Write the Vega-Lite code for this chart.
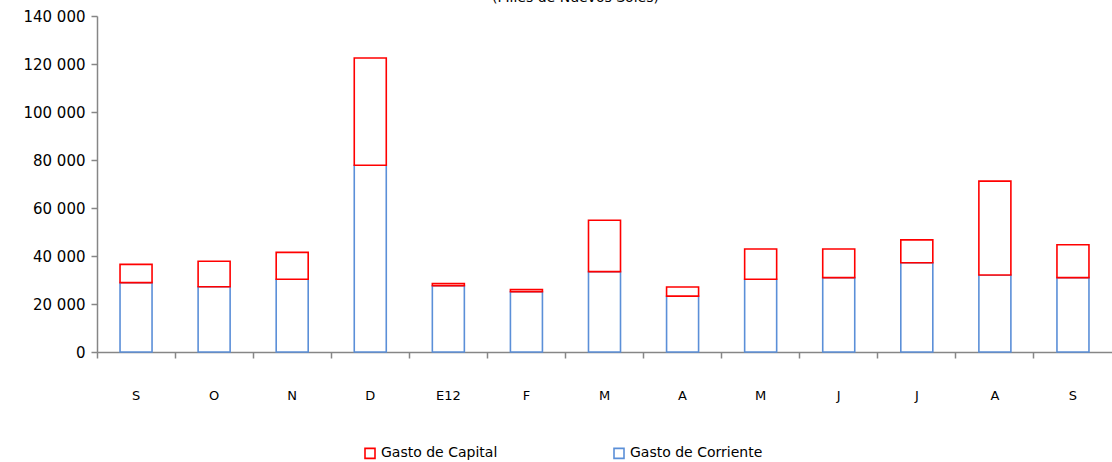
{
  "$schema": "https://vega.github.io/schema/vega-lite/v6.json",
  "autosize": "none",
  "width": 1015,
  "height": 336,
  "padding": {"left": 97, "top": 16, "right": 0, "bottom": 110},
  "background": "white",
  "title": {
    "text": "(Miles de Nuevos Soles)",
    "font": "DejaVu Sans",
    "fontSize": 14,
    "fontWeight": "normal",
    "color": "#000000",
    "anchor": "middle",
    "frame": "bounds",
    "offset": 4,
    "dx": 8
  },
  "data": {
    "values": [
      {"periodo": "S|2011-09", "tipo": "Gasto de Corriente", "valor": 28900},
      {"periodo": "O|2011-10", "tipo": "Gasto de Corriente", "valor": 27200},
      {"periodo": "N|2011-11", "tipo": "Gasto de Corriente", "valor": 30300},
      {"periodo": "D|2011-12", "tipo": "Gasto de Corriente", "valor": 77800},
      {"periodo": "E12|2012-01", "tipo": "Gasto de Corriente", "valor": 27600},
      {"periodo": "F|2012-02", "tipo": "Gasto de Corriente", "valor": 25100},
      {"periodo": "M|2012-03", "tipo": "Gasto de Corriente", "valor": 33500},
      {"periodo": "A|2012-04", "tipo": "Gasto de Corriente", "valor": 23300},
      {"periodo": "M|2012-05", "tipo": "Gasto de Corriente", "valor": 30300},
      {"periodo": "J|2012-06", "tipo": "Gasto de Corriente", "valor": 31000},
      {"periodo": "J|2012-07", "tipo": "Gasto de Corriente", "valor": 37200},
      {"periodo": "A|2012-08", "tipo": "Gasto de Corriente", "valor": 32100},
      {"periodo": "S|2012-09", "tipo": "Gasto de Corriente", "valor": 31000},
      {"periodo": "S|2011-09", "tipo": "Gasto de Capital", "valor": 7600},
      {"periodo": "O|2011-10", "tipo": "Gasto de Capital", "valor": 10600},
      {"periodo": "N|2011-11", "tipo": "Gasto de Capital", "valor": 11200},
      {"periodo": "D|2011-12", "tipo": "Gasto de Capital", "valor": 44700},
      {"periodo": "E12|2012-01", "tipo": "Gasto de Capital", "valor": 900},
      {"periodo": "F|2012-02", "tipo": "Gasto de Capital", "valor": 900},
      {"periodo": "M|2012-03", "tipo": "Gasto de Capital", "valor": 21400},
      {"periodo": "A|2012-04", "tipo": "Gasto de Capital", "valor": 3800},
      {"periodo": "M|2012-05", "tipo": "Gasto de Capital", "valor": 12600},
      {"periodo": "J|2012-06", "tipo": "Gasto de Capital", "valor": 11900},
      {"periodo": "J|2012-07", "tipo": "Gasto de Capital", "valor": 9500},
      {"periodo": "A|2012-08", "tipo": "Gasto de Capital", "valor": 39100},
      {"periodo": "S|2012-09", "tipo": "Gasto de Capital", "valor": 13700}
    ]
  },
  "mark": {"type": "bar", "fill": "white", "strokeWidth": 1.6, "width": {"band": 0.41}},
  "encoding": {
    "x": {
      "field": "periodo",
      "type": "nominal",
      "sort": null,
      "scale": {"paddingInner": 0, "paddingOuter": 0},
      "axis": {
        "title": null,
        "labelAngle": 0,
        "labelExpr": "split(datum.label, '|')[0]",
        "bandPosition": 0,
        "labelOffset": 0,
        "labelPadding": 31,
        "labelFont": "DejaVu Sans",
        "labelFontSize": 13,
        "labelColor": "#000000",
        "domainColor": "#868686",
        "domainWidth": 1.5,
        "tickColor": "#868686",
        "tickWidth": 1.5,
        "tickSize": 6
      }
    },
    "y": {
      "field": "valor",
      "type": "quantitative",
      "stack": "zero",
      "scale": {"domain": [0, 140000], "nice": false},
      "axis": {
        "title": null,
        "values": [0, 20000, 40000, 60000, 80000, 100000, 120000, 140000],
        "labelExpr": "replace(format(datum.value, ','), regexp(',', 'g'), ' ')",
        "labelFont": "DejaVu Sans",
        "labelFontSize": 15,
        "labelColor": "#000000",
        "labelPadding": 6,
        "grid": false,
        "domainColor": "#868686",
        "domainWidth": 1.5,
        "tickColor": "#868686",
        "tickWidth": 1.5,
        "tickSize": 6
      }
    },
    "stroke": {
      "field": "tipo",
      "type": "nominal",
      "scale": {"domain": ["Gasto de Capital", "Gasto de Corriente"], "range": ["#ff0000", "#5b8fd8"]},
      "legend": {
        "title": null,
        "orient": "none",
        "legendX": 266,
        "legendY": 430,
        "direction": "horizontal",
        "symbolType": "square",
        "symbolSize": 100,
        "symbolFillColor": "white",
        "symbolStrokeWidth": 1.6,
        "labelFont": "DejaVu Sans",
        "labelFontSize": 14,
        "labelColor": "#000000",
        "columnPadding": 112
      }
    },
    "order": {"field": "tipo", "sort": "descending"}
  },
  "config": {"view": {"stroke": null}}
}
